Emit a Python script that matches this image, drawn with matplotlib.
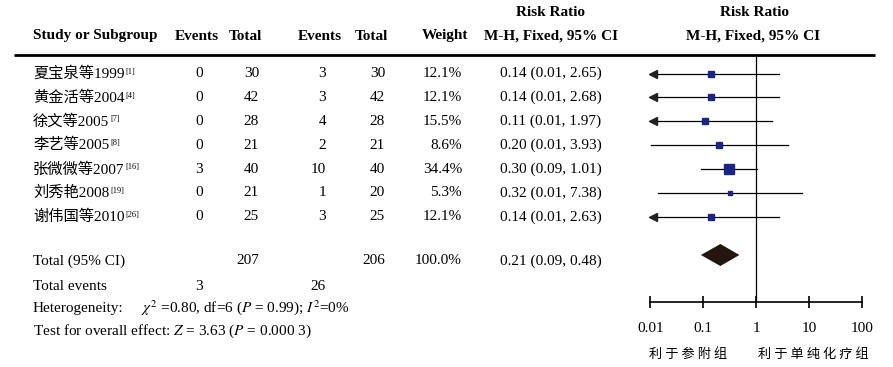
import matplotlib
matplotlib.use('Agg')
import matplotlib.pyplot as plt
import matplotlib.transforms as mtransforms
import numpy as np

plt.rcParams['font.family'] = ['Liberation Serif', 'Noto Sans CJK SC']
plt.rcParams['mathtext.fontset'] = 'stix'

studies = ['夏宝泉等1999', '黄金活等2004', '徐文等2005', '李艺等2005',
           '张微微等2007', '刘秀艳2008', '谢伟国等2010']
refs = ['[1]', '[4]', '[7]', '[8]', '[16]', '[19]', '[26]']
ev1 = [0, 0, 0, 0, 3, 0, 0]
tot1 = [30, 42, 28, 21, 40, 21, 25]
ev2 = [3, 3, 4, 2, 10, 1, 3]
tot2 = [30, 42, 28, 21, 40, 20, 25]
weight = [12.1, 12.1, 15.5, 8.6, 34.4, 5.3, 12.1]
rr = [0.14, 0.14, 0.11, 0.20, 0.30, 0.32, 0.14]
lo = [0.01, 0.01, 0.01, 0.01, 0.09, 0.01, 0.01]
hi = [2.65, 2.68, 1.97, 3.93, 1.01, 7.38, 2.63]
# lower ends as drawn (below 0.01 -> arrow)
lo_drawn = [0.007, 0.007, 0.006, 0.0102, 0.09, 0.0138, 0.007]
total_rr, total_lo, total_hi = 0.21, 0.09, 0.48
total_n1, total_n2 = 207, 206
total_ev1, total_ev2 = 3, 26
ticks = [0.01, 0.1, 1, 10, 100]
tick_labels = ['0.01', '0.1', '1', '10', '100']
favours = ['利于参附组', '利于单纯化疗组']

W, H = 893, 367
fig = plt.figure(figsize=(W / 100, H / 100), dpi=100)
ax = fig.add_axes([0, 0, 1, 1])
ax.set_xlim(0, W)
ax.set_ylim(H, 0)
ax.axis('off')

# forest axes: 0.01 .. 100 between x=650 and x=862 px
fx0, fx1 = 650.3, 862.3
axf = fig.add_axes([fx0 / W, 0, (fx1 - fx0) / W, 1])
axf.set_xscale('log')
axf.set_xlim(0.01, 100)
axf.set_ylim(H, 0)
axf.patch.set_visible(False)

row0, dy = 73.5, 23.9
rows_y = [row0 + i * dy for i in range(len(studies))]
fs = 11
hfs = 11

# header
hy1, hy2 = 13, 36
for x, s in [(550, 'Risk Ratio'), (754, 'Risk Ratio')]:
    ax.text(x, hy1, s, ha='center', va='center', fontsize=hfs, fontweight='bold')
ax.text(33, hy2, 'Study or Subgroup', ha='left', va='center', fontsize=hfs, fontweight='bold')
for x, s in [(197, 'Events'), (245, 'Total'), (320, 'Events'), (371, 'Total'),
             (445, 'Weight'), (551, 'M-H, Fixed, 95% CI'), (753, 'M-H, Fixed, 95% CI')]:
    ax.text(x, hy2, s, ha='center', va='center', fontsize=hfs, fontweight='bold')
ax.plot([14, 875], [55, 55], color='black', lw=2, solid_capstyle='butt')

for i, y in enumerate(rows_y):
    t = ax.text(33, y, studies[i], ha='left', va='center', fontsize=fs)
    ax.annotate(refs[i], xy=(1, 1), xycoords=t, xytext=(0.5, -1), textcoords='offset points',
                ha='left', va='top', fontsize=6)
    ax.text(203, y, str(ev1[i]), ha='right', va='center', fontsize=fs)
    ax.text(259, y, str(tot1[i]), ha='right', va='center', fontsize=fs)
    ax.text(326, y, str(ev2[i]), ha='right', va='center', fontsize=fs)
    ax.text(385, y, str(tot2[i]), ha='right', va='center', fontsize=fs)
    ax.text(462, y, f'{weight[i]:.1f}%', ha='right', va='center', fontsize=fs)
    ax.text(551, y, f'{rr[i]:.2f} ({lo[i]:.2f}, {hi[i]:.2f})', ha='center', va='center', fontsize=fs)

ty = 261
ax.text(33, ty, 'Total (95% CI)', ha='left', va='center', fontsize=fs)
ax.text(259, ty, str(total_n1), ha='right', va='center', fontsize=fs)
ax.text(385, ty, str(total_n2), ha='right', va='center', fontsize=fs)
ax.text(462, ty, '100.0%', ha='right', va='center', fontsize=fs)
ax.text(551, ty, f'{total_rr:.2f} ({total_lo:.2f}, {total_hi:.2f})', ha='center', va='center', fontsize=fs)
ax.text(33, 286, 'Total events', ha='left', va='center', fontsize=fs)
ax.text(203, 286, str(total_ev1), ha='right', va='center', fontsize=fs)
ax.text(326, 286, str(total_ev2), ha='right', va='center', fontsize=fs)
ax.text(33, 312, 'Heterogeneity:', ha='left', va='baseline', fontsize=fs)
ax.text(141, 312, r'$\chi^2$ =0.80, df=6 ($P$ = 0.99); $I^2$=0%', ha='left', va='baseline', fontsize=fs)
ax.text(33, 335, r'Test for overall effect: $Z$ = 3.63 ($P$ = 0.000 3)', ha='left', va='baseline', fontsize=fs)

# forest plot
axis_y = 302
axf.plot([1, 1], [55, axis_y], color='black', lw=0.9)
arrow_tr = mtransforms.offset_copy(axf.transData, fig=fig, x=2.2, y=0, units='dots')
for i, y in enumerate(rows_y):
    x_left = max(lo_drawn[i], 0.01)
    axf.plot([x_left, hi[i]], [y, y], color='black', lw=0.9, clip_on=False)
    side = 1.75 * np.sqrt(weight[i])
    axf.plot([rr[i]], [y], marker='s', ms=side * 0.72, color='#1c2584', mec='#1c2584', lw=0)
    if lo_drawn[i] < 0.01:
        axf.plot([0.01], [y], marker='<', ms=6, color='#222222', transform=arrow_tr, clip_on=False)

dh = 11
axf.fill([total_lo, total_rr, total_hi, total_rr],
         [255, 255 - dh, 255, 255 + dh], color='#231610', lw=0)

for sp in ['top', 'left', 'right']:
    axf.spines[sp].set_visible(False)
axf.spines['bottom'].set_position(('data', axis_y))
axf.spines['bottom'].set_linewidth(1.2)
axf.set_yticks([])
axf.set_xticks(ticks)
axf.set_xticklabels(tick_labels)
axf.xaxis.set_minor_locator(matplotlib.ticker.NullLocator())
axf.tick_params(axis='x', direction='inout', length=9, width=1.2, pad=10, labelsize=fs)

ax.text(688, 354, ' '.join(favours[0]), ha='center', va='center', fontsize=9.5,
        family='Noto Sans CJK SC')
ax.text(813, 354, ' '.join(favours[1]), ha='center', va='center', fontsize=9.5,
        family='Noto Sans CJK SC')

fig.savefig('out.png', dpi=100)
